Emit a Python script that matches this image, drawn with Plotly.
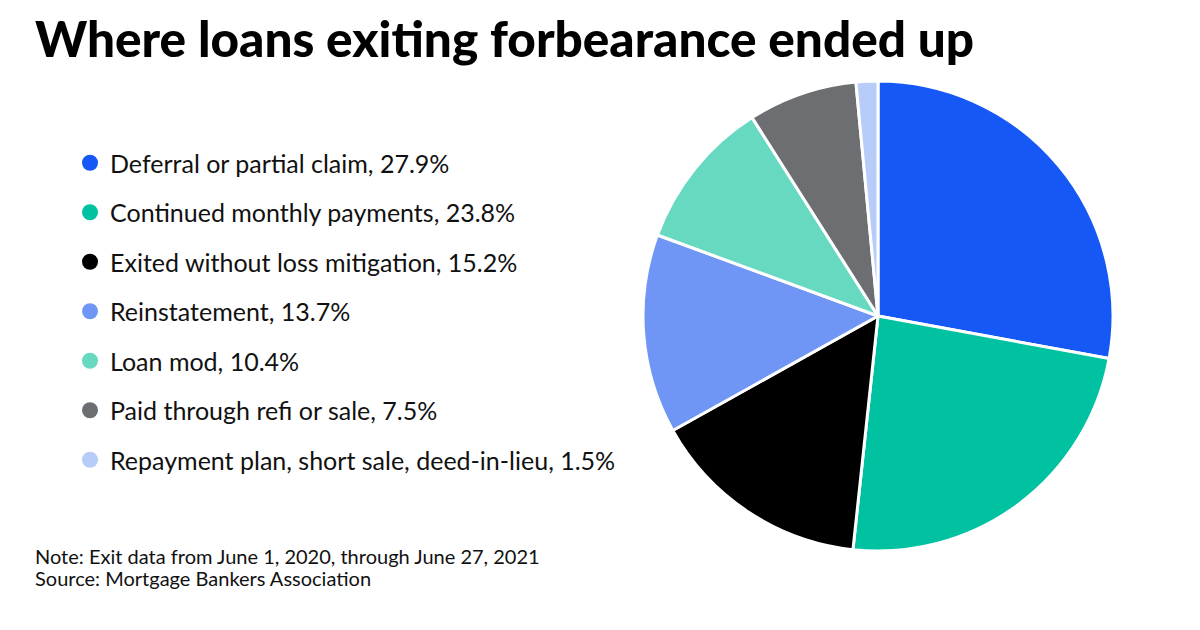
import plotly.graph_objects as go

labels = [
    "Deferral or partial claim",
    "Continued monthly payments",
    "Exited without loss mitigation",
    "Reinstatement",
    "Loan mod",
    "Paid through refi or sale",
    "Repayment plan, short sale, deed-in-lieu",
]
shares = [27.9, 23.8, 15.2, 13.7, 10.4, 7.5, 1.5]
colors = ["#1658F5", "#00C2A0", "#000000", "#7096F5", "#67D9C1", "#6D6E71", "#B8CCFA"]

legend_names = [f"{lab}, {val}%" for lab, val in zip(labels, shares)]

W, H = 1200, 630


def px_x(v):
    return v / W


def px_y(v):
    return 1 - v / H


fig = go.Figure()

fig.add_trace(
    go.Pie(
        labels=labels,
        values=shares,
        sort=False,
        direction="clockwise",
        rotation=0,
        marker=dict(colors=colors, line=dict(color="white", width=3)),
        textinfo="none",
        hoverinfo="label+percent",
        showlegend=False,
        domain=dict(x=[px_x(635), px_x(1105)], y=[px_y(543), px_y(73)]),
    )
)

# legend entries with round markers
for i, (name, col) in enumerate(zip(legend_names, colors)):
    fig.add_trace(
        go.Scatter(
            x=[None],
            y=[None],
            mode="markers",
            name=name,
            legendgroup=str(i),
            marker=dict(color=col, size=16, symbol="circle"),
        )
    )

fig.update_layout(
    width=W,
    height=H,
    margin=dict(l=0, r=0, t=0, b=0),
    paper_bgcolor="white",
    plot_bgcolor="white",
    font=dict(family="Lato", color="#111111"),
    xaxis=dict(visible=False),
    yaxis=dict(visible=False),
    legend=dict(
        x=px_x(62),
        y=px_y(132),
        xanchor="left",
        yanchor="top",
        font=dict(size=25, color="#111111"),
        tracegroupgap=14,
        bgcolor="rgba(0,0,0,0)",
    ),
    annotations=[
        dict(
            text="Where loans exiting forbearance ended up",
            x=px_x(25),
            y=px_y(30),
            xref="paper",
            yref="paper",
            xanchor="left",
            yanchor="middle",
            showarrow=False,
            font=dict(size=49.5, color="#000000", weight=900),
        ),
        dict(
            text="Note: Exit data from June 1, 2020, through June 27, 2021",
            x=px_x(25),
            y=px_y(548),
            xref="paper",
            yref="paper",
            xanchor="left",
            yanchor="middle",
            showarrow=False,
            font=dict(size=20, color="#111111"),
        ),
        dict(
            text="Source: Mortgage Bankers Association",
            x=px_x(25),
            y=px_y(570),
            xref="paper",
            yref="paper",
            xanchor="left",
            yanchor="middle",
            showarrow=False,
            font=dict(size=20, color="#111111"),
        ),
    ],
)

fig.write_html("out.html")
